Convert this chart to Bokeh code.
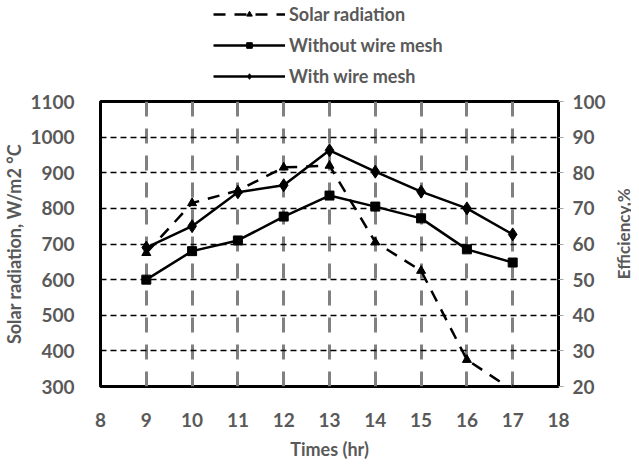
import math
from bokeh.plotting import figure
from bokeh.layouts import column, row
from bokeh.models import Range1d, LinearAxis, Legend, LegendItem, FixedTicker
from bokeh.core.properties import value
from bokeh.embed import file_html
from bokeh.resources import INLINE

hours = [9, 10, 11, 12, 13, 14, 15, 16, 17]
solar_radiation = [675, 815, 850, 915, 920, 705, 625, 375, 290]
without_mesh = [50, 58, 61, 67.7, 73.6, 70.5, 67.2, 58.5, 54.8]
with_mesh = [59, 65, 74.5, 76.5, 86.3, 80.3, 74.7, 70, 62.7]

x_ticks = [8, 9, 10, 11, 12, 13, 14, 15, 16, 17, 18]
left_ticks = [300, 400, 500, 600, 700, 800, 900, 1000, 1100]
right_ticks = [20, 30, 40, 50, 60, 70, 80, 90, 100]
series_names = ["Solar radiation", "Without wire mesh", "With wire mesh"]

FONT = "Lato"
GRAY = "#595959"

MAIN_W, MAIN_H = 615, 375
LEG_H = 87
LAB_W = 16

# ---------------- main chart ----------------
p = figure(width=MAIN_W, height=MAIN_H, output_backend="svg", toolbar_location=None,
           x_range=Range1d(8, 18), y_range=Range1d(300, 1100),
           min_border_left=92, min_border_right=57, min_border_top=14, min_border_bottom=76)
p.extra_y_ranges = {"eff": Range1d(20, 100)}

p.outline_line_color = "black"
p.outline_line_width = 3
p.background_fill_color = "white"
p.border_fill_color = "white"

p.xgrid.ticker = FixedTicker(ticks=hours)
p.xgrid.grid_line_color = "#808080"
p.xgrid.grid_line_width = 3
p.xgrid.grid_line_dash = "15 12"
p.ygrid.ticker = FixedTicker(ticks=left_ticks[1:-1])
p.ygrid.grid_line_color = "black"
p.ygrid.grid_line_width = 1.5
p.ygrid.grid_line_dash = "6 4"

xa = p.xaxis[0]
xa.ticker = FixedTicker(ticks=x_ticks)
xa.axis_line_color = None
xa.major_tick_line_color = None
xa.minor_tick_line_color = None
xa.major_label_standoff = 20
xa.axis_label = "Times (hr)"
xa.axis_label_standoff = 8

ya = p.yaxis[0]
ya.ticker = FixedTicker(ticks=left_ticks)
ya.axis_line_color = None
ya.major_tick_line_color = None
ya.minor_tick_line_color = None
ya.major_label_standoff = 20
ya.axis_label = "Solar radiation, W/m2 °C"
ya.axis_label_standoff = 2

ra = LinearAxis(y_range_name="eff", ticker=FixedTicker(ticks=right_ticks))
ra.axis_line_color = None
ra.major_tick_line_color = "#a6a6a6"
ra.major_tick_out = 5
ra.major_tick_in = 0
ra.minor_tick_line_color = None
ra.major_label_standoff = 9
p.add_layout(ra, "right")

for ax in [xa, ya, ra]:
    ax.major_label_text_font = FONT
    ax.major_label_text_font_style = "bold"
    ax.major_label_text_font_size = "19px"
    ax.major_label_text_color = GRAY
    ax.axis_label_text_font = FONT
    ax.axis_label_text_font_style = "bold"
    ax.axis_label_text_font_size = "18px"
    ax.axis_label_text_color = GRAY

p.line(hours, solar_radiation, line_color="black", line_width=2.5, line_dash="12 9")
p.scatter(hours, solar_radiation, marker="triangle", size=9, color="black")
p.line(hours, without_mesh, y_range_name="eff", line_color="black", line_width=2.5)
p.scatter(hours, without_mesh, y_range_name="eff", marker="square", size=9, color="black")
p.line(hours, with_mesh, y_range_name="eff", line_color="black", line_width=2.5)
p.scatter(hours, with_mesh, y_range_name="eff", marker="diamond", size=13, color="black")

# ---------------- legend strip (its series lie outside its visible ranges) ----------------
lg = figure(width=MAIN_W + LAB_W, height=LEG_H, output_backend="svg", toolbar_location=None,
            x_axis_location=None, y_axis_location=None,
            x_range=Range1d(100, 101), y_range=Range1d(5000, 5001),
            min_border_left=0, min_border_right=0, min_border_top=0, min_border_bottom=0)
lg.outline_line_color = None
lg.grid.visible = False
l1 = lg.line(hours, solar_radiation, line_color="black", line_width=2.5, line_dash="12 9")
m1 = lg.scatter(hours, solar_radiation, marker="triangle", size=9, color="black")
l2 = lg.line(hours, without_mesh, line_color="black", line_width=2.5)
m2 = lg.scatter(hours, without_mesh, marker="square", size=9, color="black")
l3 = lg.line(hours, with_mesh, line_color="black", line_width=2.5)
m3 = lg.scatter(hours, with_mesh, marker="diamond", size=13, color="black")

legend = Legend(items=[
    LegendItem(label=series_names[0], renderers=[l1, m1]),
    LegendItem(label=series_names[1], renderers=[l2, m2]),
    LegendItem(label=series_names[2], renderers=[l3, m3]),
], location=(213, 0))
legend.glyph_width = 72
legend.glyph_height = 14
legend.label_height = 14
legend.spacing = 9
legend.padding = 0
legend.margin = 0
legend.label_standoff = 4
legend.border_line_color = None
legend.background_fill_alpha = 0
legend.label_text_font = FONT
legend.label_text_font_style = "bold"
legend.label_text_font_size = "18px"
legend.label_text_color = GRAY
lg.add_layout(legend, "center")

# ---------------- right axis title strip ----------------
lb = figure(width=LAB_W, height=MAIN_H, output_backend="svg", toolbar_location=None,
            x_axis_location=None, y_axis_location=None,
            x_range=Range1d(0, LAB_W), y_range=Range1d(0, MAIN_H),
            min_border_left=0, min_border_right=0, min_border_top=0, min_border_bottom=0)
lb.outline_line_color = None
lb.grid.visible = False
lb.text(x=[8], y=[201], text=["Efficiency,%"], angle=math.pi / 2,
        text_font=value(FONT), text_font_style="bold", text_font_size="17px",
        text_color=GRAY, text_align="center", text_baseline="middle")

layout = column(lg, row(p, lb, spacing=0), spacing=0)
open("out.html", "w").write(file_html(layout, INLINE))
